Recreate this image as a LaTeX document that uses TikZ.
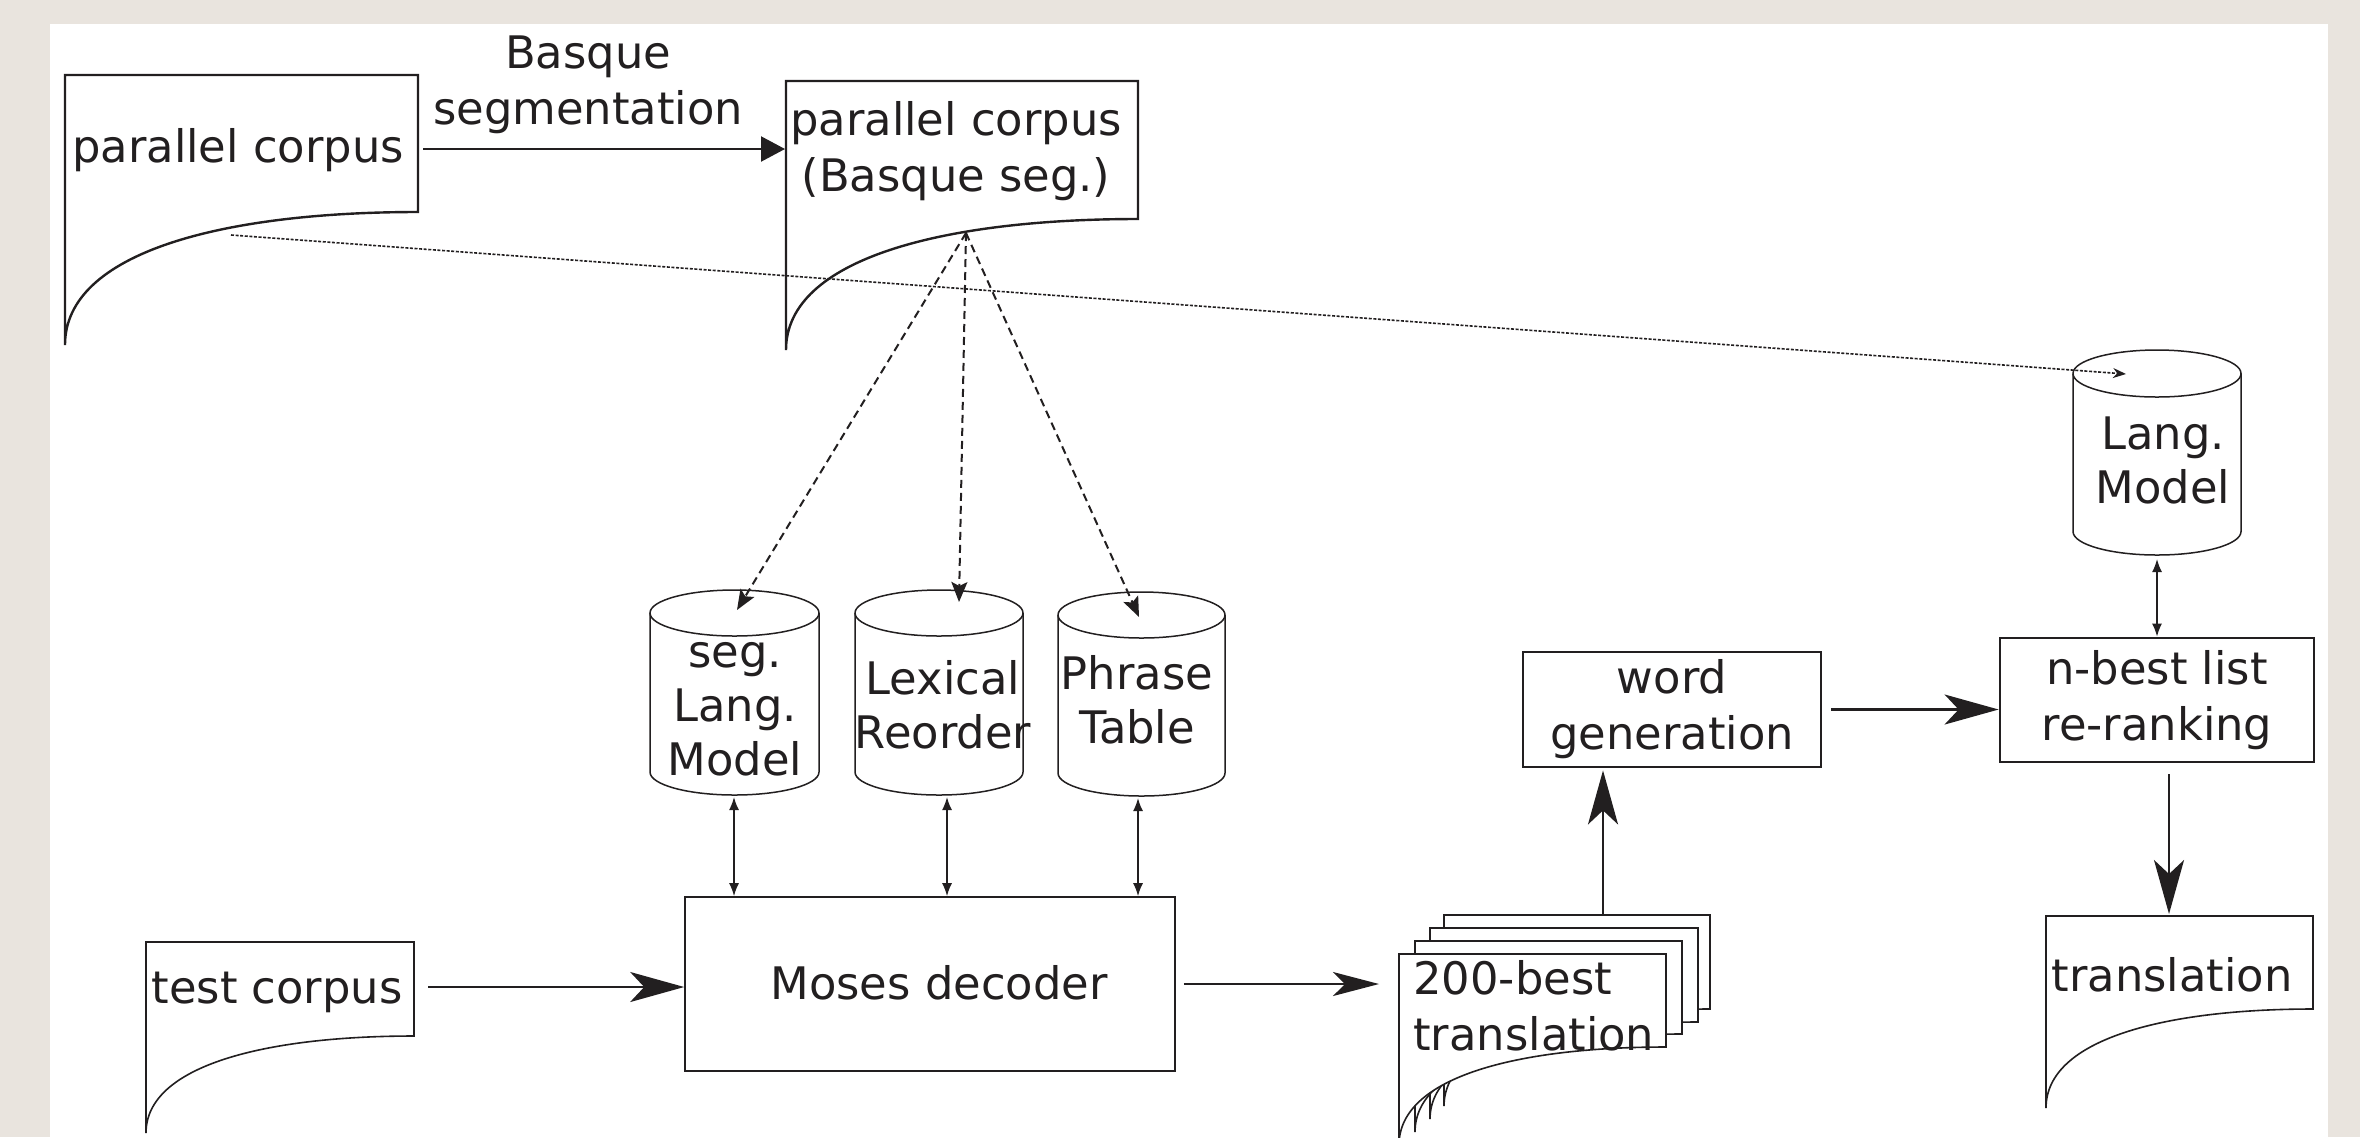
\documentclass[tikz,border=0pt]{standalone}
\usepackage{fontspec}
\setmainfont{DejaVu Sans}
\usetikzlibrary{arrows.meta,calc}
\definecolor{bgbeige}{RGB}{233,228,222}
\definecolor{ink}{RGB}{34,31,32}

\newcommand\docshape[6][]{%
  \pgfmathsetmacro\dcxa{#4-0.55*(#4-#2)}%
  \pgfmathsetmacro\dcyb{#5+0.3*(#6-#5)}%
  \draw[docline,#1] (#2,#3) -- (#4,#3) -- (#4,#5) .. controls (\dcxa,#5) and (#2,\dcyb) .. (#2,#6) -- cycle;%
}
\newcommand\dbcyl[5][23]{%
  \pgfmathsetmacro\cylcx{(#2+#3)/2}%
  \pgfmathsetmacro\cylrx{(#3-#2)/2}%
  \pgfmathsetmacro\cylyt{#4+#1}%
  \pgfmathsetmacro\cylyb{#5-#1}%
  \draw[cylline] (#2,\cylyt) -- (#2,\cylyb) arc[start angle=180,end angle=0,x radius=\cylrx,y radius=#1] -- (#3,\cylyt);%
  \draw[cylline] (\cylcx,\cylyt) ellipse[x radius=\cylrx,y radius=#1];%
}

\tikzset{
  docline/.style={draw=ink, line width=1.2pt, fill=white, line join=miter},
  thindoc/.style={line width=0.8pt},
  cylline/.style={draw=ink, line width=0.75pt},
  txt/.style={font=\fontsize{22.4}{28}\selectfont, text=ink, inner sep=0pt, align=center},
  cyltxt/.style={font=\fontsize{22.4}{27}\selectfont, text=ink, inner sep=0pt, align=center},
  boxthick/.style={draw=ink, line width=1.4pt, inner sep=0pt, align=center, text=ink, font=\fontsize{22.4}{28}\selectfont},
  boxthin/.style={draw=ink, line width=0.8pt, inner sep=0pt},
  bigarrow/.style={draw=ink, line width=1.3pt, -{Stealth[length=27pt,width=15pt,inset=7pt]}},
  midarrow/.style={draw=ink, line width=1pt, -{Stealth[length=23pt,width=12pt,inset=6pt]}},
  triarrow/.style={draw=ink, line width=1.1pt, -{Triangle[length=12pt,width=12.5pt]}},
  dasharrow/.style={draw=ink, line width=1pt, dash pattern=on 4pt off 2.5pt, -{Stealth[length=10pt,width=8pt,inset=2pt]}},
  dotarrow/.style={draw=ink, line width=0.8pt, dash pattern=on 1.5pt off 0.8pt, -{Stealth[length=6.5pt,width=5pt]}},
  dblarrow/.style={draw=ink, line width=0.8pt, {Latex[length=6.5pt,width=5pt]}-{Latex[length=6.5pt,width=5pt]}}
}

\begin{document}
\begin{tikzpicture}[x=0.5pt,y=-0.5pt]
\useasboundingbox (0,0) rectangle (2360,1137);
\fill[bgbeige] (0,0) rectangle (2360,1137);
\fill[white] (50,24) rectangle (2328,1137);

% documents
\docshape{65}{75}{418}{212}{345}
\docshape{786}{81}{1138}{219}{350}
\docshape[thindoc]{146}{942}{414}{1036}{1133}
\docshape[thindoc]{2046}{916}{2313}{1009}{1108}
% 200-best stack
\docshape[thindoc]{1444}{915}{1710}{1009}{1106}
\docshape[thindoc]{1430}{928}{1698}{1022}{1119}
\docshape[thindoc]{1415}{941}{1682}{1034}{1132}
\docshape[thindoc]{1399}{954}{1666}{1047}{1145}

% cylinders
\dbcyl{650}{819}{590}{795}
\dbcyl{855}{1023}{590}{795}
\dbcyl{1058}{1225}{592}{796}
\dbcyl[23.5]{2073}{2241}{350}{555}

% text nodes
\node[txt] (pc) at (238,150) {parallel corpus};
\node[txt] (basq) at (588,85) {Basque\\segmentation};
\node[txt] (pcb) at (956,151) {parallel corpus\\(Basque seg.)};
\node[cyltxt] (slm) at (735,709) {seg.\\Lang.\\Model};
\node[cyltxt] (lex) at (943,705) {Lexical\\Reorder};
\node[cyltxt] (phr) at (1137,700) {Phrase\\Table};
\node[cyltxt] (lm) at (2163,460) {Lang.\\Model};
\node[txt] (tc) at (277,992) {test corpus};
\node[txt] (tr) at (2172,975) {translation};
\node[txt, anchor=west, align=left] (nbt) at (1413,1006) {200-best\\translation};

\node[boxthick, minimum width=149pt, minimum height=57.5pt] (wg) at (1672,709.5) {word\\generation};
\node[boxthick, minimum width=157pt, minimum height=62pt] (nb) at (2157,700) {n-best list\\re-ranking};
\node[boxthin, minimum width=245pt, minimum height=87pt] (moses) at (930,984) {};
\node[txt] (mosest) at (939,983) {Moses decoder};

% anchor coordinates
\coordinate (Aout) at (423,149);
\coordinate (Bin) at (785,149);
\coordinate (Asrc) at (231,235);
\coordinate (Bsrc) at (966,233);
\coordinate (segtip) at (737,610);
\coordinate (lextip) at (959,602);
\coordinate (phrtip) at (1139,617);
\coordinate (lmtip) at (2126,374);
\coordinate (segbot) at (734,797);
\coordinate (lexbot) at (947,797);
\coordinate (phrbot) at (1138,798);
\coordinate (lmbot) at (2157,559);
\coordinate (tcout) at (428,987);
\coordinate (stackin) at (1379,984);
\coordinate (stacktop) at (1603,915);
\coordinate (nbout) at (2169,774);
\coordinate (trtop) at (2169,914);

% connectors
\draw[triarrow] (Aout) -- (Bin);
\draw[dotarrow] (Asrc) -- (lmtip);
\draw[dasharrow] (Bsrc) -- (segtip);
\draw[dasharrow] (Bsrc) -- (lextip);
\draw[dasharrow] (Bsrc) -- (phrtip);
\draw[dblarrow] (segbot) -- (segbot |- moses.north);
\draw[dblarrow] (lexbot) -- (lexbot |- moses.north);
\draw[dblarrow] (phrbot) -- (phrbot |- moses.north);
\draw[dblarrow] (lmbot) -- (nb.north);
\draw[bigarrow] (tcout) -- (tcout -| moses.west);
\draw[midarrow, shorten <=4pt] (moses.east) -- (stackin);
\draw[bigarrow] (stacktop) -- ($(stacktop |- wg.south)+(0,2)$);
\draw[bigarrow, shorten <=4.5pt] (wg.east) -- (wg.east -| nb.west);
\draw[bigarrow] (nbout) -- (trtop);
\end{tikzpicture}
\end{document}
